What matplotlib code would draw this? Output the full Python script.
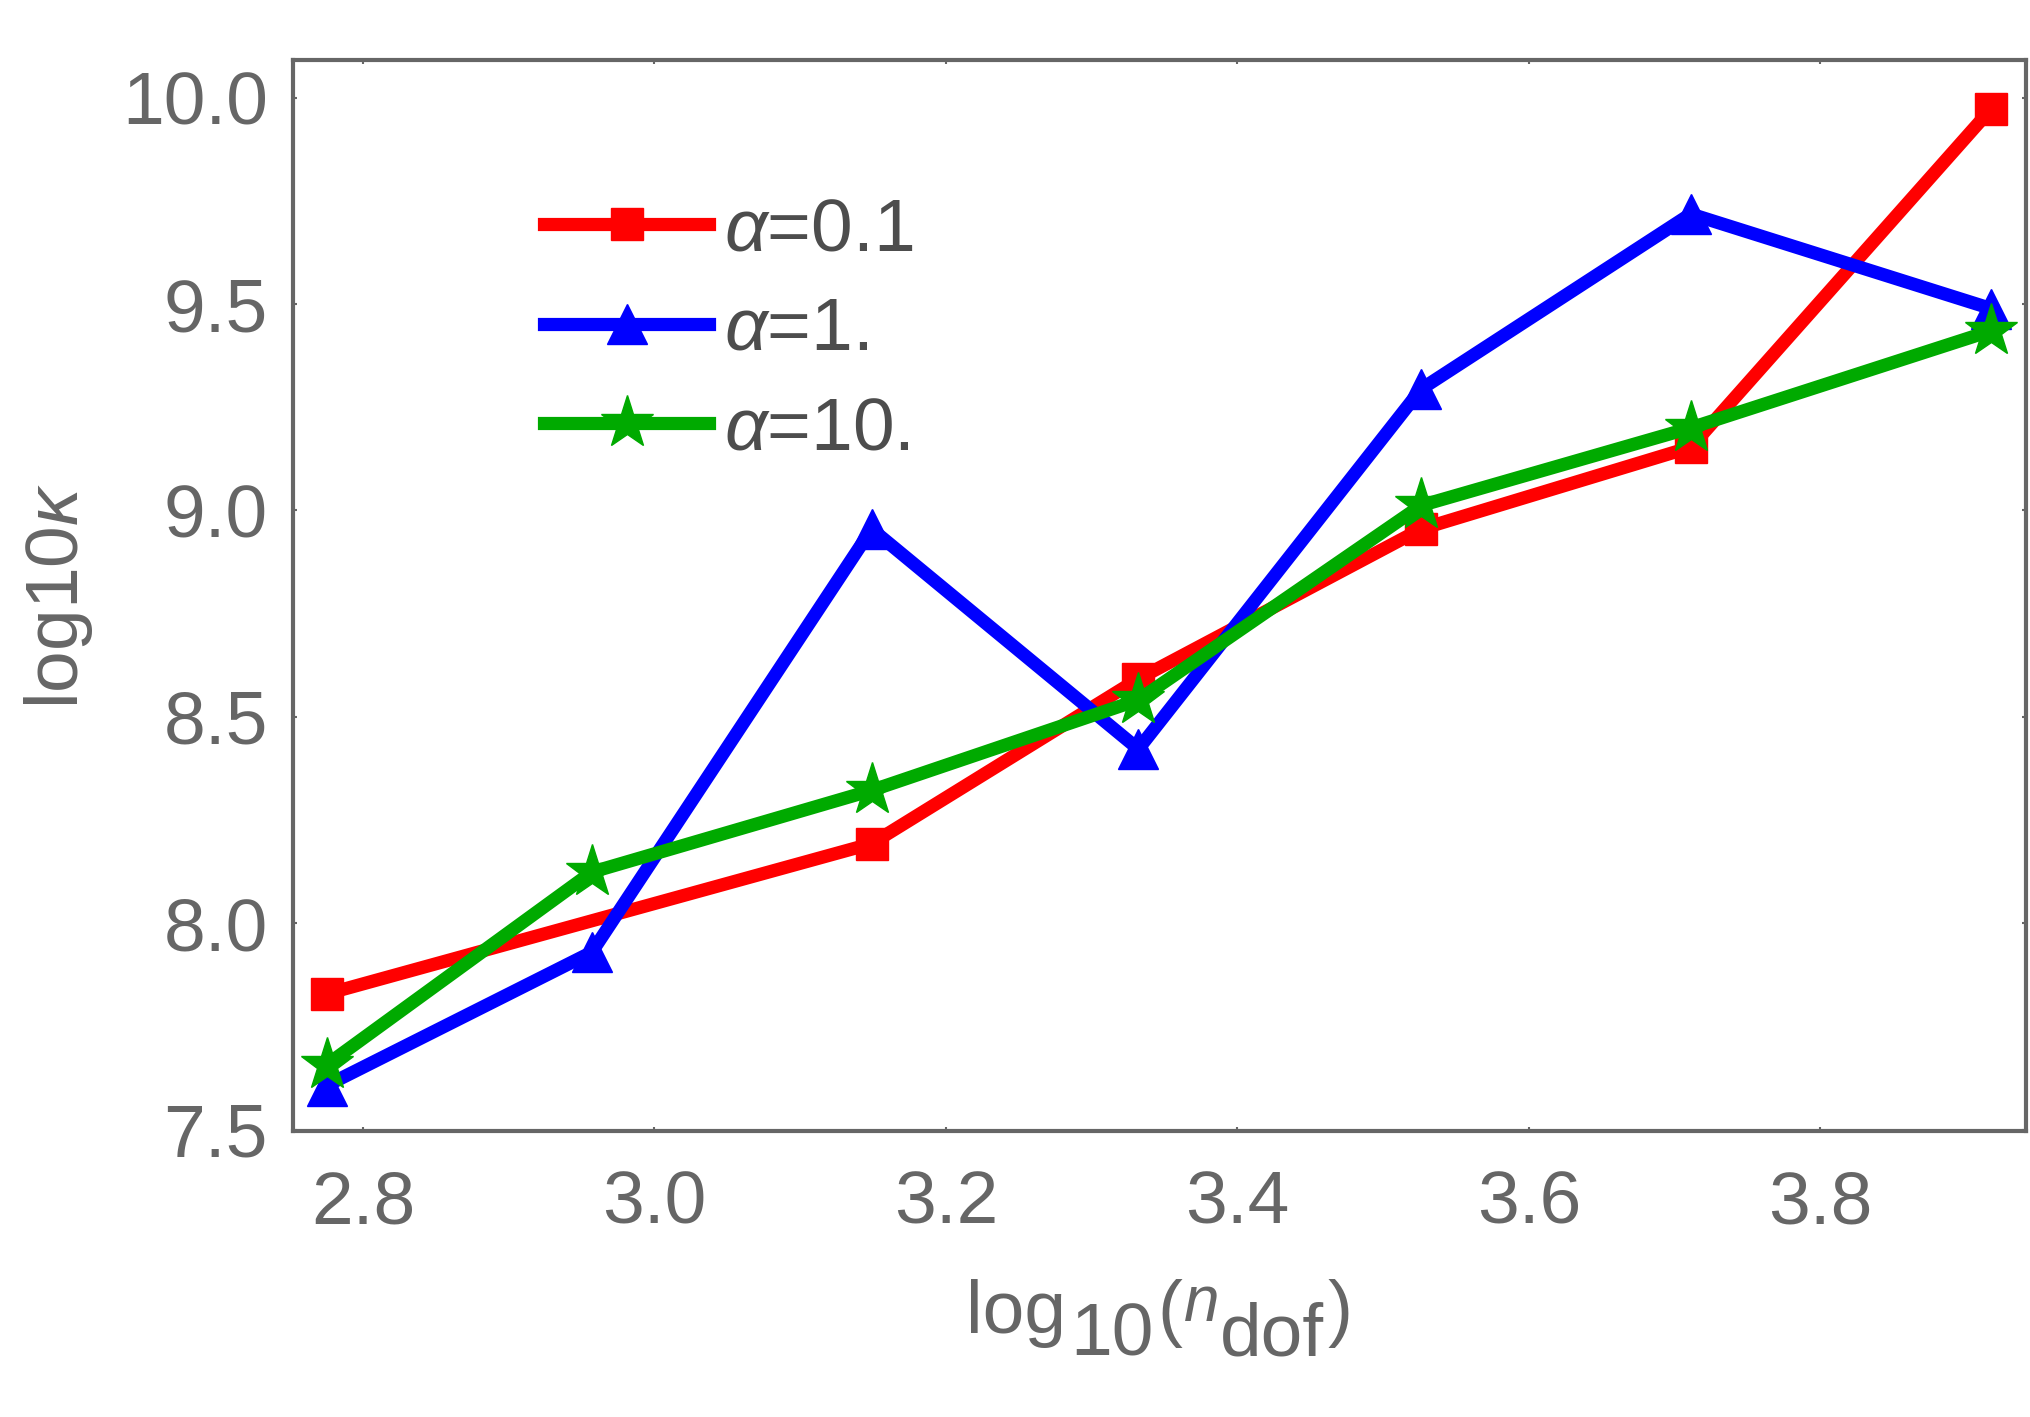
import matplotlib
matplotlib.use("Agg")
import matplotlib.pyplot as plt

FONT = "Liberation Sans"
plt.rcParams['font.family'] = [FONT, 'DejaVu Sans']
plt.rcParams['mathtext.fontset'] = 'custom'
plt.rcParams['mathtext.rm'] = FONT
plt.rcParams['mathtext.it'] = FONT + ':italic'
plt.rcParams['mathtext.bf'] = FONT + ':bold'

# data
x_all = [2.775, 2.957, 3.149, 3.332, 3.526, 3.711, 3.917]
x_red = [2.775, 3.149, 3.332, 3.526, 3.711, 3.917]
y_red = [7.829, 8.193, 8.592, 8.955, 9.153, 9.972]
y_blue = [7.607, 7.930, 8.955, 8.422, 9.294, 9.718, 9.489]
y_green = [7.657, 8.124, 8.322, 8.541, 9.012, 9.200, 9.435]
labels = [r'$\alpha$=0.1', r'$\alpha$=1.', r'$\alpha$=10.']
xticks = [2.8, 3.0, 3.2, 3.4, 3.6, 3.8]
yticks = [7.5, 8.0, 8.5, 9.0, 9.5, 10.0]

W, H, DPI = 2031, 1417, 100
FS = 54
fig = plt.figure(figsize=(W / DPI, H / DPI), dpi=DPI)
ax = fig.add_axes([293 / W, 1 - 1131 / H, (2026 - 293) / W, (1131 - 60) / H])

GRAY = '#666666'
lw = 9.5
ax.plot(x_red, y_red, color='#ff0000', lw=lw, marker='s', ms=23, label=labels[0])
ax.plot(x_all, y_blue, color='#0000ff', lw=lw, marker='^', ms=29, label=labels[1])
ax.plot(x_all, y_green, color='#00aa00', lw=lw, marker='*', ms=40, label=labels[2])

ax.set_xlim(2.752, 3.941)
ax.set_ylim(7.497, 10.091)
ax.set_xticks(xticks)
ax.set_yticks(yticks)
ax.set_xticklabels([f'{v:.1f}' for v in xticks])
ax.set_yticklabels([f'{v:.1f}' for v in yticks])

for s in ax.spines.values():
    s.set_color(GRAY)
    s.set_linewidth(3)
ax.tick_params(axis='both', which='major', direction='in', length=3, width=1.5,
               color=GRAY, labelcolor=GRAY, labelsize=FS,
               top=True, right=True)
ax.tick_params(axis='x', pad=28)
ax.tick_params(axis='y', pad=18)

ax.set_ylabel(r'log10$\kappa$', fontsize=FS, color=GRAY)
ax.yaxis.set_label_coords(-0.114, 0.5)

leg = ax.legend(loc='upper left', bbox_to_anchor=(0.145, 0.873), frameon=False,
                fontsize=FS, handlelength=2.2, handletextpad=0.2,
                labelspacing=0.41, borderpad=0, borderaxespad=0)
for t in leg.get_texts():
    t.set_color('#4d4d4d')

# x label: log_10(n_dof) with Mathematica-style full-size subscripts
renderer = fig.canvas.get_renderer()
pieces = [
    ('log', FS, 'normal', 0, 0),
    ('10', FS, 'normal', -23, 4),
    ('(', FS, 'normal', 0, 4),
    ('n', 46, 'italic', 12, 2),
    ('dof', FS, 'normal', -23, 0),
    (')', FS, 'normal', 0, 4),
]
base_y = 1417 - 1333  # pixels from bottom
texts = []
widths = []
for s, size, style, dy, gap in pieces:
    t = fig.text(0, 0, s, fontsize=size, style=style, color=GRAY,
                 ha='left', va='baseline')
    bb = t.get_window_extent(renderer)
    texts.append(t)
    widths.append(bb.width)
total = sum(widths) + sum(p[4] for p in pieces[1:])
ax_bb = ax.get_window_extent(renderer)
cx = (ax_bb.x0 + ax_bb.x1) / 2
x = cx - total / 2
for i, (t, w, p) in enumerate(zip(texts, widths, pieces)):
    if i > 0:
        x += p[4]
    t.set_position((x / W, (base_y + p[3]) / H))
    x += w

fig.savefig('out.png', dpi=DPI)
